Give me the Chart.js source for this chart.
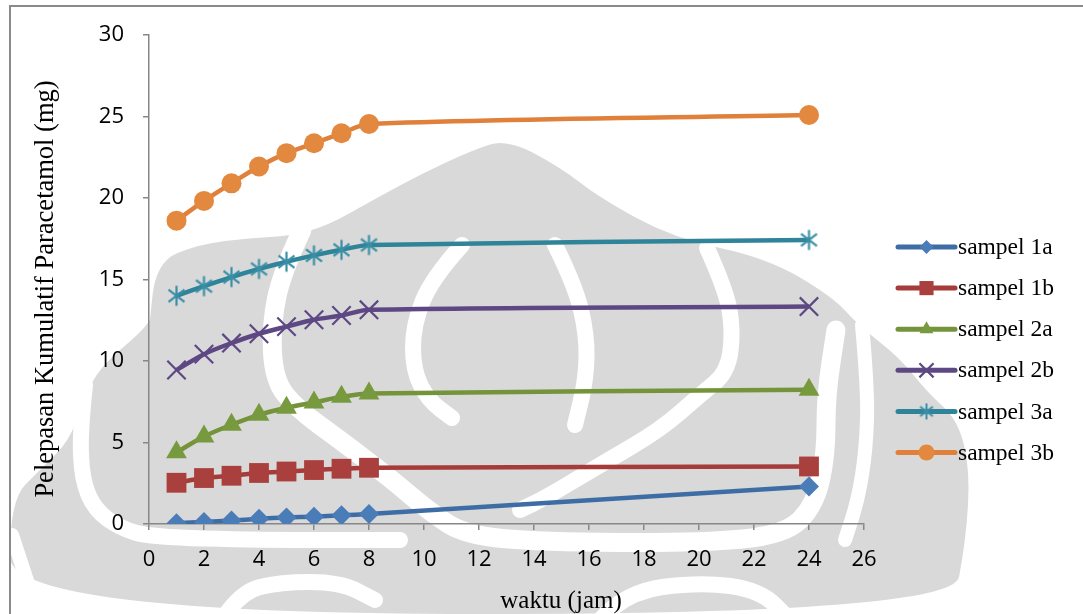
<!DOCTYPE html>
<html>
<head>
<meta charset="utf-8">
<script src="https://cdn.jsdelivr.net/npm/chart.js@4.4.1/dist/chart.umd.min.js"></script>
<style>
  html, body { margin: 0; padding: 0; background: #ffffff; }
  #wrap { width: 1083px; height: 614px; position: relative; }
</style>
</head>
<body>
<div id="wrap"><canvas id="c" width="1083" height="614"></canvas></div>
<script>
// Release time points (hours)
const waktu = [1, 2, 3, 4, 5, 6, 7, 8, 24];

// Cumulative paracetamol released (mg) per sample
const sampel1a = [0.05, 0.13, 0.21, 0.32, 0.40, 0.45, 0.53, 0.62, 2.30];
const sampel1b = [2.53, 2.82, 2.96, 3.13, 3.22, 3.31, 3.39, 3.45, 3.53];
const sampel2a = [4.40, 5.37, 6.09, 6.70, 7.13, 7.46, 7.80, 8.01, 8.23];
const sampel2b = [9.45, 10.42, 11.10, 11.67, 12.11, 12.53, 12.79, 13.14, 13.34];
const sampel3a = [14.00, 14.59, 15.15, 15.65, 16.09, 16.48, 16.82, 17.12, 17.43];
const sampel3b = [18.61, 19.82, 20.90, 21.93, 22.75, 23.36, 23.97, 24.54, 25.09];

const seriesNames = ['sampel 1a', 'sampel 1b', 'sampel 2a', 'sampel 2b', 'sampel 3a', 'sampel 3b'];
const seriesValues = [sampel1a, sampel1b, sampel2a, sampel2b, sampel3a, sampel3b];

// Axis tick labels
const xTicks = [0, 2, 4, 6, 8, 10, 12, 14, 16, 18, 20, 22, 24, 26];
const yTicks = [0, 5, 10, 15, 20, 25, 30];

const xTitle = 'waktu (jam)';
const yTitle = 'Pelepasan Kumulatif Paracetamol (mg)';

// Asterisk marker: vertical stroke plus an X
function makeAsterisk(color, r, lw) {
  const c = document.createElement('canvas');
  const s = Math.ceil(r * 2 + lw * 2);
  c.width = s; c.height = s;
  const g = c.getContext('2d');
  g.strokeStyle = color; g.lineWidth = lw; g.lineCap = 'butt';
  const cx = s / 2, cy = s / 2;
  g.beginPath();
  g.moveTo(cx, cy - r); g.lineTo(cx, cy + r);
  const a = Math.PI / 3.4;
  g.moveTo(cx - Math.sin(a) * r, cy - Math.cos(a) * r); g.lineTo(cx + Math.sin(a) * r, cy + Math.cos(a) * r);
  g.moveTo(cx + Math.sin(a) * r, cy - Math.cos(a) * r); g.lineTo(cx - Math.sin(a) * r, cy + Math.cos(a) * r);
  g.stroke();
  return c;
}

const styles = [
  { line: '#3E6DA6', fill: '#4A7CB8', shape: 'rectRot', r: 10, bw: 0, lr: 7 },
  { line: '#A63C3A', fill: '#A9403E', shape: 'rect', r: 14, bw: 0, lr: 10 },
  { line: '#75933B', fill: '#789A3E', shape: 'triangle', r: 12, bw: 0, lr: 8 },
  { line: '#5E4884', fill: '#5E4884', shape: 'crossRot', r: 13, bw: 2.2, lr: 10 },
  { line: '#2F8499', fill: '#3A8FA6', shape: makeAsterisk('#3A8FA6', 10, 2.2), r: 10, bw: 0, lr: 8, legendShape: makeAsterisk('#3A8FA6', 8, 2) },
  { line: '#E0803A', fill: '#E3883F', shape: 'circle', r: 10, bw: 0, lr: 8 }
];

const datasets = seriesNames.map((name, i) => ({
  label: name,
  data: waktu.map((x, k) => ({ x: x, y: seriesValues[i][k] })),
  borderColor: styles[i].line,
  borderWidth: 4.5,
  tension: 0.3,
  pointStyle: styles[i].shape,
  pointRadius: styles[i].r,
  pointBackgroundColor: styles[i].fill,
  pointBorderColor: styles[i].fill,
  pointBorderWidth: styles[i].bw,
  fill: false
}));

// Faint background emblem
function smoothPath(ctx, pts, closed) {
  ctx.moveTo(pts[0][0], pts[0][1]);
  for (let i = 1; i < pts.length - 1; i++) {
    const mx = (pts[i][0] + pts[i + 1][0]) / 2, my = (pts[i][1] + pts[i + 1][1]) / 2;
    ctx.quadraticCurveTo(pts[i][0], pts[i][1], mx, my);
  }
  const l = pts[pts.length - 1];
  ctx.lineTo(l[0], l[1]);
  if (closed) ctx.closePath();
}

const emblem = {
  id: 'emblem',
  beforeDraw(chart) {
    const ctx = chart.ctx;
    ctx.save();
    ctx.fillStyle = '#d9d9d9';
    ctx.beginPath();
    smoothPath(ctx, [
      [152, 300], [155, 262], [200, 244], [250, 238], [290, 236], [327, 226], [373, 200],
      [423, 173], [473, 150], [507, 139], [560, 167], [600, 198], [673, 238], [767, 258],
      [833, 297], [858, 325], [900, 358], [927, 392], [958, 420], [970, 470], [966, 540],
      [952, 614], [10, 614], [10, 500], [40, 470], [70, 440], [83, 400], [100, 367],
      [140, 333], [150, 320]
    ], true);
    ctx.fill();

    ctx.strokeStyle = '#ffffff';
    ctx.lineCap = 'round';
    ctx.lineJoin = 'round';
    const bands = [
      { w: 16, p: [[462, 245], [432, 278], [413, 325], [413, 370], [428, 400], [452, 418]] },
      { w: 16, p: [[555, 245], [575, 285], [587, 335], [586, 380], [575, 425]] },
      { w: 19, p: [[302, 230], [282, 272], [271, 325], [274, 380], [296, 408], [340, 440], [390, 478], [430, 512], [465, 535], [540, 542], [700, 543], [785, 535], [815, 505], [826, 455], [826, 395], [836, 330]] },
      { w: 16, p: [[707, 248], [726, 290], [733, 330], [728, 372], [700, 395], [660, 430], [600, 465], [545, 498], [520, 510]] },
      { w: 14, p: [[862, 325], [868, 390], [866, 450], [858, 500], [845, 540]] },
      { w: 16, p: [[85, 385], [80, 430], [82, 480], [95, 510], [120, 528], [150, 537], [260, 540], [400, 540]] },
      { w: 16, p: [[222, 620], [240, 592], [280, 582], [340, 582], [375, 600]] },
      { w: 16, p: [[600, 620], [625, 592], [700, 582], [760, 590], [790, 620]] },
      { w: 14, p: [[12, 535], [40, 620]] }
    ];
    bands.forEach(b => {
      ctx.lineWidth = b.w;
      ctx.beginPath();
      smoothPath(ctx, b.p, false);
      ctx.stroke();
    });
    ctx.restore();
  }
};

// Axis titles, legend and outer frame
const decorations = {
  id: 'decorations',
  afterDraw(chart) {
    const ctx = chart.ctx;
    ctx.save();

    // frame
    ctx.strokeStyle = '#8a8a8a';
    ctx.lineWidth = 2;
    ctx.beginPath();
    ctx.moveTo(10, 614); ctx.lineTo(10, 6); ctx.lineTo(1083, 6);
    ctx.stroke();

    // axis titles
    ctx.fillStyle = '#000000';
    ctx.font = '25px "Liberation Serif", "Times New Roman", serif';
    ctx.textAlign = 'center';
    ctx.textBaseline = 'middle';
    ctx.fillText(xTitle, 561, 601);
    ctx.save();
    ctx.translate(46, 289);
    ctx.rotate(-Math.PI / 2);
    ctx.font = '26.5px "Liberation Serif", "Times New Roman", serif';
    ctx.fillText(yTitle, 0, 0);
    ctx.restore();

    // legend
    const x0 = 898, x1 = 955, rowY = 247, rowGap = 41.1;
    ctx.font = '23.5px "Liberation Serif", "Times New Roman", serif';
    ctx.textAlign = 'left';
    ctx.textBaseline = 'middle';
    chart.data.datasets.forEach((ds, i) => {
      const y = rowY + i * rowGap;
      const st = styles[i];
      ctx.strokeStyle = st.line;
      ctx.lineWidth = 5;
      ctx.lineCap = 'round';
      ctx.beginPath();
      ctx.moveTo(x0, y); ctx.lineTo(x1, y);
      ctx.stroke();
      ctx.fillStyle = st.fill;
      ctx.strokeStyle = st.fill;
      ctx.lineWidth = st.bw || 0;
      ctx.lineCap = 'butt';
      Chart.helpers.drawPoint(ctx, {
        pointStyle: st.legendShape || st.shape,
        radius: st.lr,
        rotation: 0,
        borderWidth: st.bw
      }, (x0 + x1) / 2, y);
      ctx.fillStyle = '#000000';
      ctx.fillText(ds.label, 958, y + 1);
    });
    ctx.restore();
  }
};

const axisColor = '#878787';
const tickFont = { family: '"Open Sans", "Liberation Sans", sans-serif', size: 22 };

new Chart(document.getElementById('c'), {
  type: 'line',
  data: { datasets: datasets },
  options: {
    responsive: false,
    animation: false,
    devicePixelRatio: 1,
    layout: { padding: { top: 35, right: 219, left: 0, bottom: 0 } },
    plugins: { legend: { display: false }, tooltip: { enabled: false } },
    scales: {
      x: {
        type: 'linear',
        min: 0, max: 26,
        afterBuildTicks: s => { s.ticks = xTicks.map(v => ({ value: v })); },
        afterFit: s => { s.height = 90; },
        grid: { drawOnChartArea: false, drawTicks: true, tickLength: 6, color: axisColor, lineWidth: 1.5 },
        border: { color: axisColor, width: 1.5 },
        ticks: { font: tickFont, color: '#000000', padding: 17, maxRotation: 0, autoSkip: false }
      },
      y: {
        type: 'linear',
        min: 0, max: 30,
        afterBuildTicks: s => { s.ticks = yTicks.map(v => ({ value: v })); },
        afterFit: s => { s.width = 149; },
        grid: { drawOnChartArea: false, drawTicks: true, tickLength: 6, color: axisColor, lineWidth: 1.5 },
        border: { color: axisColor, width: 1.5 },
        ticks: { font: tickFont, color: '#000000', padding: 19, autoSkip: false }
      }
    }
  },
  plugins: [emblem, decorations]
});
</script>
</body>
</html>
